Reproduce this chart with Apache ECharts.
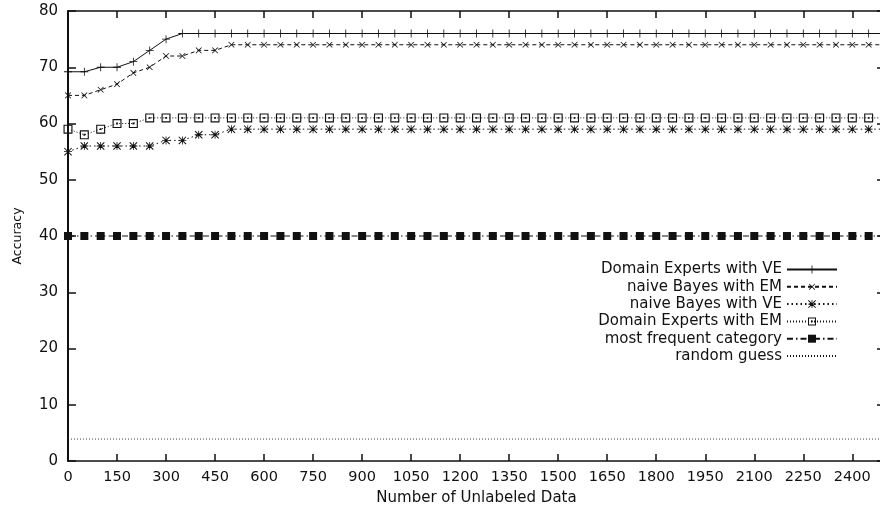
<!DOCTYPE html>
<html><head><meta charset="utf-8">
<script src="https://cdn.jsdelivr.net/npm/echarts@6/dist/echarts.min.js"></script>
<style>html,body{margin:0;padding:0;background:#fff}#c{width:880px;height:507px}</style>
</head><body><div id="c"></div>
<script>
const xValues = [0,50,100,150,200,250,300,350,400,450,500,550,600,650,700,750,800,850,900,950,
  1000,1050,1100,1150,1200,1250,1300,1350,1400,1450,1500,1550,1600,1650,1700,1750,1800,1850,1900,1950,
  2000,2050,2100,2150,2200,2250,2300,2350,2400,2450,2500];
const domainExpertsVE = [69.2,69.2,70,70,71,73,75,76,76,76,76,76,76,76,76,76,76,76,76,76,
  76,76,76,76,76,76,76,76,76,76,76,76,76,76,76,76,76,76,76,76,
  76,76,76,76,76,76,76,76,76,76,76];
const naiveBayesEM = [65,65,66,67,69,70,72,72,73,73,74,74,74,74,74,74,74,74,74,74,
  74,74,74,74,74,74,74,74,74,74,74,74,74,74,74,74,74,74,74,74,
  74,74,74,74,74,74,74,74,74,74,74];
const naiveBayesVE = [55,56,56,56,56,56,57,57,58,58,59,59,59,59,59,59,59,59,59,59,
  59,59,59,59,59,59,59,59,59,59,59,59,59,59,59,59,59,59,59,59,
  59,59,59,59,59,59,59,59,59,59,59];
const domainExpertsEM = [59,58,59,60,60,61,61,61,61,61,61,61,61,61,61,61,61,61,61,61,
  61,61,61,61,61,61,61,61,61,61,61,61,61,61,61,61,61,61,61,61,
  61,61,61,61,61,61,61,61,61,61,61];
const mostFrequent = [40,40,40,40,40,40,40,40,40,40,40,40,40,40,40,40,40,40,40,40,
  40,40,40,40,40,40,40,40,40,40,40,40,40,40,40,40,40,40,40,40,
  40,40,40,40,40,40,40,40,40,40,40];
const randomGuess = [3.9,3.9,3.9,3.9,3.9,3.9,3.9,3.9,3.9,3.9,3.9,3.9,3.9,3.9,3.9,3.9,3.9,3.9,3.9,3.9,
  3.9,3.9,3.9,3.9,3.9,3.9,3.9,3.9,3.9,3.9,3.9,3.9,3.9,3.9,3.9,3.9,3.9,3.9,3.9,3.9,
  3.9,3.9,3.9,3.9,3.9,3.9,3.9,3.9,3.9,3.9,3.9];
const seriesNames = ['Domain Experts with VE','naive Bayes with EM','naive Bayes with VE',
  'Domain Experts with EM','most frequent category','random guess'];

const INK = '#111';
const FONT = 'DejaVu Sans';
const plusPath = 'path://M-1,-10H1V-1H10V1H1V10H-1V1H-10V-1H-1Z';
const starPath = 'path://M-1,-10H1V-1H10V1H1V10H-1V1H-10V-1H-1Z' +
  'M-10,-8.2L-8.2,-10L10,8.2L8.2,10Z' +
  'M8.2,-10L10,-8.2L-8.2,10L-10,8.2Z';
const boxPath = 'path://M-10,-10H10V10H-10ZM-7.5,-7.5V7.5H7.5V-7.5ZM-2,-2H2V2H-2Z';

function pairs(ys){ return xValues.map((x,i)=>[x, ys[i]]); }

function mk(name, ys, lineType, symbol, size, extra){
  return Object.assign({
    name, type:'line', data:pairs(ys), xAxisIndex:0, yAxisIndex:0,
    symbol, symbolSize:size, showSymbol: symbol !== 'none',
    lineStyle:{color:INK, width:1, type:lineType},
    itemStyle:{color:INK},
    emphasis:{disabled:true}, animation:false, z:3
  }, extra||{});
}

const chart = echarts.init(document.getElementById('c'), null, {renderer:'canvas'});
const axisLineStyle = {color:INK, width:1.5};
const tickStyle = {color:INK, width:1.5};
const legendData = seriesNames.map(n => n === 'random guess'
  ? {name:n, itemStyle:{color:'rgba(0,0,0,0)', borderColor:'rgba(0,0,0,0)', borderWidth:0}}
  : {name:n});
chart.setOption({
  backgroundColor:'#fff',
  animation:false,
  grid:{left:68, top:11, width:817, height:450, containLabel:false, outerBoundsMode:'none'},
  legend:{
    orient:'vertical', right:42, top:262, align:'right', padding:0,
    itemWidth:50, itemHeight:10, itemGap:2.3,
    textStyle:{fontFamily:FONT, fontSize:15, color:INK, lineHeight:15},
    data:legendData, selectedMode:false
  },
  xAxis:[
    {type:'value', position:'bottom', min:0, max:2500, interval:150,
     axisLine:{show:true, onZero:false, lineStyle:axisLineStyle},
     axisTick:{show:true, inside:true, length:7, lineStyle:tickStyle},
     axisLabel:{showMaxLabel:false, margin:9, fontFamily:FONT, fontSize:14.5, color:INK,
       formatter: v => String(v)},
     splitLine:{show:false},
     name:'Number of Unlabeled Data', nameLocation:'middle', nameGap:30,
     nameTextStyle:{fontFamily:FONT, fontSize:15, color:INK}},
    {type:'value', position:'top', min:0, max:2500, interval:150,
     axisLine:{show:true, onZero:false, lineStyle:axisLineStyle},
     axisTick:{show:true, inside:true, length:7, lineStyle:tickStyle},
     axisLabel:{show:false}, splitLine:{show:false}}
  ],
  yAxis:[
    {type:'value', position:'left', min:0, max:80, interval:10,
     axisLine:{show:true, onZero:false, lineStyle:{color:INK, width:2}},
     axisTick:{show:true, inside:true, length:8, lineStyle:tickStyle},
     axisLabel:{margin:10, fontFamily:FONT, fontSize:15, color:INK},
     splitLine:{show:false},
     name:'Accuracy', nameLocation:'middle', nameGap:44,
     nameTextStyle:{fontFamily:FONT, fontSize:12.5, color:INK}},
    {type:'value', position:'right', min:0, max:80, interval:10,
     axisLine:{show:true, onZero:false, lineStyle:axisLineStyle},
     axisTick:{show:true, inside:true, length:8, lineStyle:tickStyle},
     axisLabel:{show:false}, splitLine:{show:false}}
  ],
  series:[
    mk(seriesNames[0], domainExpertsVE, 'solid', plusPath, 8),
    mk(seriesNames[1], naiveBayesEM, [4,3], plusPath, 8, {symbolRotate:45}),
    mk(seriesNames[2], naiveBayesVE, [1.5,3], starPath, 8),
    mk(seriesNames[3], domainExpertsEM, [1,2], boxPath, 9),
    mk(seriesNames[4], mostFrequent, [6,3,1.5,3], 'rect', 8),
    mk(seriesNames[5], randomGuess, [1,2], 'none', 0, {lineStyle:{color:INK, width:0.8, type:[1,2]}})
  ]
});
</script></body></html>
